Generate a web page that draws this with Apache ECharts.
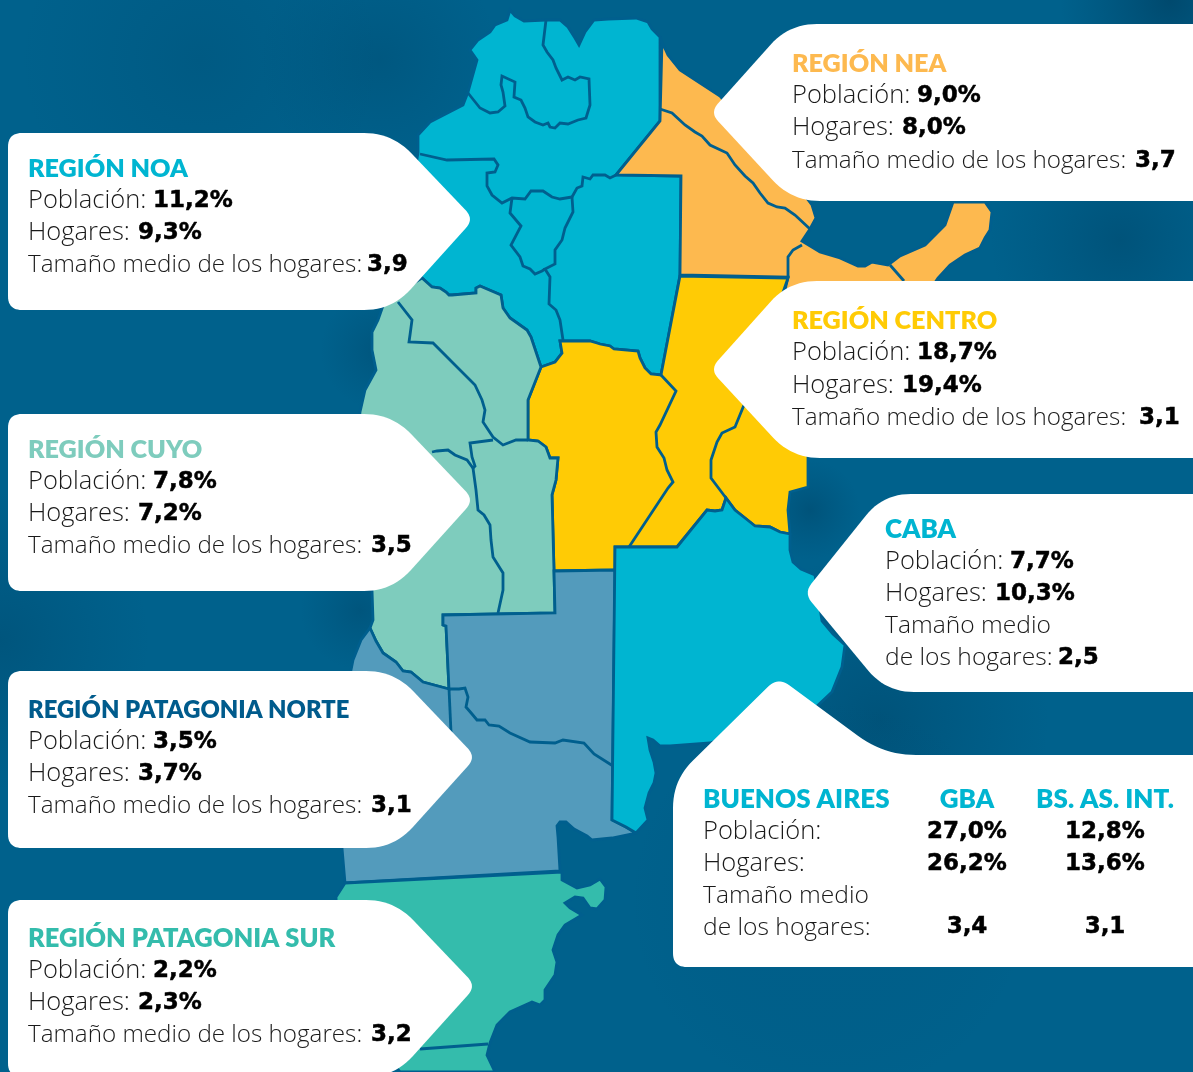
<!DOCTYPE html>
<html>
<head>
<meta charset="utf-8">
<title>Regiones</title>
<script src="https://cdn.jsdelivr.net/npm/echarts@6/dist/echarts.min.js"></script>
<style>
  html, body { margin: 0; padding: 0; background: #00618c; }
  #chart { width: 1193px; height: 1072px; }
</style>
</head>
<body>
<div id="chart"></div>
<script>
// values printed on the callouts
const noaValues = ['11,2%', '9,3%', '3,9']
const neaValues = ['9,0%', '8,0%', '3,7']
const centroValues = ['18,7%', '19,4%', '3,1']
const cuyoValues = ['7,8%', '7,2%', '3,5']
const cabaValues = ['7,7%', '10,3%', '2,5']
const patNorteValues = ['3,5%', '3,7%', '3,1']
const patSurValues = ['2,2%', '2,3%', '3,2']
const gbaValues = ['27,0%', '26,2%', '3,4']
const interiorValues = ['12,8%', '13,6%', '3,1']

// map outlines, x/y in picture units
const noaOutline = [[510,10],[515,16],[524,21],[546,20],[560,20],[568,27],[575,38],[579,45],[585,32],[594,20],[608,19],[636,18],[648,22],[652,29],[660,37],[660,121],[616,175],[681,176],[680,275],[661,375],[651,374],[645,368],[640,358],[638,351],[614,349],[610,346],[600,344],[597,343],[590,341],[560,341],[562,353],[555,362],[541,367],[531,337],[527,330],[510,318],[503,308],[501,295],[480,286],[476,288],[476,293],[452,295],[449,295],[446,292],[440,288],[432,287],[422,278],[405,280],[410,200],[418,153],[418,135],[430,122],[463,105],[468,92],[477,60],[470,50],[478,40],[490,32],[495,25],[507,20]]
const neaOutline = [[662,42],[668,55],[680,70],[720,96],[770,150],[812,205],[816,218],[810,229],[802,241],[820,252],[840,258],[858,266],[865,266],[872,262],[888,265],[900,256],[925,245],[945,225],[953,202],[985,202],[992,212],[990,230],[985,238],[980,248],[965,255],[950,265],[938,278],[930,290],[785,290],[788,277],[680,275],[681,176],[616,175],[660,121]]
const centroOutline = [[680,276],[788,278],[770,330],[808,440],[808,487],[790,492],[788,510],[790,534],[780,532],[770,527],[755,526],[745,518],[735,510],[726,498],[722,510],[715,511],[707,510],[677,547],[615,547],[615,570],[554,571],[552,495],[556,480],[558,458],[550,458],[546,447],[538,441],[528,440],[528,400],[541,367],[555,362],[562,353],[560,341],[590,341],[597,343],[600,344],[610,346],[614,349],[638,351],[640,358],[645,368],[651,374],[661,375]]
const cuyoOutline = [[541,367],[531,337],[527,330],[510,318],[503,308],[501,295],[480,286],[476,288],[476,293],[452,295],[449,295],[446,292],[440,288],[432,287],[422,278],[385,300],[378,320],[372,332],[372,350],[376,370],[365,390],[360,412],[350,500],[372,590],[373,620],[370,628],[376,641],[383,653],[396,662],[403,671],[411,672],[423,682],[449,689],[446,626],[443,625],[443,615],[555,613],[554,571],[552,495],[556,480],[558,458],[550,458],[546,447],[538,441],[528,440],[528,400]]
const patNorteOutline = [[370,628],[376,641],[383,653],[396,662],[403,671],[411,672],[423,682],[449,689],[446,626],[443,625],[443,615],[555,613],[554,571],[615,570],[612,820],[626,827],[636,833],[612,838],[592,840],[587,836],[574,829],[566,822],[560,822],[557,826],[558,837],[560,871],[345,883],[342,848],[340,760],[349,680],[353,660],[361,640]]
const patSurOutline = [[345,883],[562,872],[562,880],[577,888],[590,885],[600,879],[606,887],[605,900],[597,909],[590,908],[583,898],[575,897],[565,903],[570,908],[582,915],[565,925],[558,935],[553,950],[557,962],[555,975],[545,990],[545,1000],[540,1005],[532,1002],[510,1012],[497,1025],[490,1043],[487,1055],[495,1072],[400,1072],[340,1000],[336,897]]
const baOutline = [[615,547],[677,547],[707,510],[715,511],[722,510],[726,498],[735,510],[745,518],[755,526],[770,527],[780,532],[790,534],[790,550],[793,562],[801,569],[815,575],[822,621],[833,634],[845,645],[842,667],[832,692],[815,708],[710,743],[670,746],[660,746],[653,740],[648,738],[650,750],[654,762],[656,773],[654,783],[649,793],[645,808],[648,820],[636,833],[626,827],[612,820]]

// province borders inside the regions
const borderJujuy = [[546,20],[543,45],[547,52],[553,60],[556,68],[562,80],[568,77],[575,80],[580,77],[589,79],[590,105],[586,118],[578,120],[568,124],[560,123],[555,128],[550,127],[548,123],[543,125],[535,122],[528,117],[525,108],[521,100],[514,97],[515,82],[502,76],[501,85],[503,92],[505,106],[498,112],[490,113],[480,108],[468,93]]
const borderSalta = [[420,154],[447,160],[494,159],[498,165],[495,172],[487,173],[487,186],[492,195],[502,203],[512,198],[525,199],[531,191],[543,191],[552,197],[560,199],[572,197]]
const borderChacoTop = [[572,197],[577,188],[582,186],[583,177],[590,179],[593,175],[605,175],[610,178],[616,175]]
const borderSantiago = [[572,197],[573,212],[565,228],[562,240],[555,250],[555,264],[545,269],[550,277],[549,304],[556,310],[560,320],[563,340]]
const borderTucuman = [[512,198],[510,213],[521,226],[511,245],[520,257],[523,266],[530,269],[535,274],[542,271],[545,269]]
const borderFormosa = [[660,109],[672,113],[685,125],[695,132],[702,136],[710,145],[727,153],[735,165],[745,176],[753,183],[760,193],[768,203],[777,207],[785,208],[795,215],[810,229]]
const borderCorrientes = [[788,277],[788,257],[793,250],[802,245]]
const borderMisiones = [[890,265],[904,281]]
const borderCordoba = [[661,375],[676,391],[660,425],[656,432],[657,447],[664,458],[667,470],[673,482],[668,488],[629,547]]
const borderEntreRios = [[744,405],[735,427],[722,433],[717,442],[711,460],[711,478],[720,490],[726,498]]
const borderRioja = [[398,302],[412,320],[410,335],[409,342],[433,343],[455,365],[470,380],[475,385],[482,400],[485,410],[483,422],[493,437],[503,445],[516,440],[528,440]]
const borderSanJuan = [[493,440],[470,443],[472,457],[475,466],[473,468],[467,460],[455,455],[448,450],[437,451],[432,452]]
const borderMendoza = [[473,468],[476,490],[478,510],[484,515],[490,525],[491,540],[493,557],[503,573],[503,590],[498,613]]
const borderNeuquen = [[449,689],[451,732]]
const borderRioNegro = [[449,689],[459,689],[465,688],[468,697],[466,707],[472,714],[477,720],[485,720],[489,725],[499,726],[510,733],[530,742],[555,743],[563,740],[584,743],[594,754],[613,766]]
const borderSantaCruz = [[420,1049],[488,1044]]

const regionOutlines = { NOA: noaOutline, NEA: neaOutline, Centro: centroOutline, Cuyo: cuyoOutline, PatagoniaNorte: patNorteOutline, PatagoniaSur: patSurOutline, BuenosAires: baOutline }
const regionColors = { NOA: '#00b5d1', NEA: '#fdb94f', Centro: '#ffcb05', Cuyo: '#7eccbd', PatagoniaNorte: '#539bbc', PatagoniaSur: '#34bcac', BuenosAires: '#00b5d1' }
const borders = [borderJujuy, borderSalta, borderChacoTop, borderSantiago, borderTucuman, borderFormosa, borderCorrientes, borderMisiones, borderCordoba, borderEntreRios, borderRioja, borderSanJuan, borderMendoza, borderNeuquen, borderRioNegro, borderSantaCruz]

const lineColor = '#005f8e'
const labelFont = '"Open Sans", sans-serif'
const valueFont = '"DejaVu Sans", sans-serif'
const titleFont = 'Lato, sans-serif'

function closeRing(points) {
  return [...points, points[0]]
}

const geoJson = {
  type: 'FeatureCollection',
  features: Object.keys(regionOutlines).map(name => ({
    type: 'Feature',
    properties: { name },
    geometry: { type: 'Polygon', coordinates: [closeRing(regionOutlines[name])] },
  })),
}
echarts.registerMap('regiones', geoJson)

// corners as [x, y, radius], rounded with a sampled quadratic curve
function rounded(corners) {
  const out = []
  const n = corners.length
  corners.forEach((c, i) => {
    const prev = corners[(i + n - 1) % n]
    const next = corners[(i + 1) % n]
    const lenA = Math.hypot(prev[0] - c[0], prev[1] - c[1])
    const lenB = Math.hypot(next[0] - c[0], next[1] - c[1])
    const a = [c[0] + (prev[0] - c[0]) * c[2] / lenA, c[1] + (prev[1] - c[1]) * c[2] / lenA]
    const b = [c[0] + (next[0] - c[0]) * c[2] / lenB, c[1] + (next[1] - c[1]) * c[2] / lenB]
    for (let t = 0; t <= 1.001; t += 1 / 12) {
      const u = 1 - t
      out.push([u * u * a[0] + 2 * u * t * c[0] + t * t * b[0], u * u * a[1] + 2 * u * t * c[1] + t * t * b[1]])
    }
  })
  return out
}

function box(corners) {
  return { type: 'polygon', z: 20, shape: { points: rounded(corners) }, style: { fill: '#fff' } }
}

function leftCallout(top, height, dx) {
  return box([[8, top, 14], [392 + dx, top, 28], [474 + dx, top + 86, 12], [392 + dx, top + height, 28], [8, top + height, 14]])
}

function rightCallout(top, height, dx) {
  return box([[1210, top, 18], [789 + dx, top, 28], [710 + dx, top + height / 2, 12], [792 + dx, top + height, 28], [1210, top + height, 18]])
}

function label(x, y, text, size) {
  return { type: 'text', z: 21, x, y, style: { text, font: '300 ' + size + 'px ' + labelFont, fill: '#1a1a1a', align: 'left', verticalAlign: 'middle' } }
}

function value(x, y, text, align) {
  return { type: 'text', z: 21, x, y, style: { text, font: '800 23px ' + valueFont, fill: '#000', stroke: '#000', lineWidth: 0.5, align: align || 'left', verticalAlign: 'middle' } }
}

function title(x, y, text, color, size, align) {
  return { type: 'text', z: 21, x, y, style: { text, font: '800 ' + size + 'px ' + titleFont, fill: color, align: align || 'left', verticalAlign: 'middle' } }
}

function regionText(x, ys, name, color, size, values, lastOffset) {
  return [
    title(x, ys[0], name, color, size),
    label(x, ys[1], 'Población:', 25.5), value(x + 125, ys[1], values[0]),
    label(x, ys[2], 'Hogares:', 25.5), value(x + 110, ys[2], values[1]),
    label(x, ys[3], 'Tamaño medio de los hogares:', 24.2), value(x + lastOffset, ys[3], values[2]),
  ]
}

// soft patches for the mottled sea
function patch(x, y, r, color) {
  return {
    type: 'circle', z: 1, shape: { cx: x, cy: y, r },
    style: { fill: { type: 'radial', x: 0.5, y: 0.5, r: 0.5, colorStops: [{ offset: 0, color }, { offset: 1, color: 'rgba(0,60,95,0)' }] } },
  }
}

const graphics = [
  patch(1170, 0, 110, 'rgba(0,50,80,0.5)'),
  patch(1120, 240, 130, 'rgba(0,50,80,0.3)'),
  patch(880, 720, 170, 'rgba(0,50,80,0.3)'),
  patch(810, 510, 50, 'rgba(0,50,80,0.3)'),
  patch(380, 350, 60, 'rgba(0,50,80,0.25)'),
  patch(360, 610, 60, 'rgba(0,50,80,0.25)'),
  patch(0, 640, 150, 'rgba(0,50,80,0.25)'),
  patch(200, 60, 180, 'rgba(0,50,80,0.15)'),
  patch(380, 60, 120, 'rgba(0,50,80,0.2)'),
  patch(830, 900, 200, 'rgba(0,90,135,0.2)'),

  leftCallout(133, 177, 0),
  leftCallout(414, 177, 0),
  leftCallout(671, 177, 2),
  leftCallout(900, 177, 2),
  rightCallout(24, 177, 0),
  rightCallout(281, 177, 0),
  rightCallout(494, 198, 94),
  box([[673, 780, 28], [778, 677, 14], [884, 755, 32], [1210, 755, 18], [1210, 967, 18], [673, 967, 14]]),

  ...regionText(28, [169, 201, 233, 265], 'REGIÓN NOA', regionColors.NOA, 25.2, noaValues, 339),
  ...regionText(28, [450, 482, 514, 546], 'REGIÓN CUYO', regionColors.Cuyo, 25.2, cuyoValues, 343),
  ...regionText(28, [710, 742, 774, 806], 'REGIÓN PATAGONIA NORTE', '#005b8c', 23.8, patNorteValues, 343),
  ...regionText(28, [939, 971, 1003, 1035], 'REGIÓN PATAGONIA SUR', regionColors.PatagoniaSur, 25.5, patSurValues, 343),
  ...regionText(792, [64, 96, 128, 161], 'REGIÓN NEA', regionColors.NEA, 25.2, neaValues, 343),
  ...regionText(792, [321, 353, 386, 418], 'REGIÓN CENTRO', regionColors.Centro, 25.2, centroValues, 347),

  title(885, 530, 'CABA', regionColors.BuenosAires, 26),
  label(885, 562, 'Población:', 25.5), value(1010, 562, cabaValues[0]),
  label(885, 594, 'Hogares:', 25.5), value(995, 594, cabaValues[1]),
  label(885, 626, 'Tamaño medio', 24.6),
  label(885, 658, 'de los hogares:', 24.6), value(1058, 658, cabaValues[2]),

  title(703, 800, 'BUENOS AIRES', regionColors.BuenosAires, 26),
  title(967, 800, 'GBA', regionColors.BuenosAires, 26, 'center'),
  title(1105, 800, 'BS. AS. INT.', regionColors.BuenosAires, 26, 'center'),
  label(703, 832, 'Población:', 25.5),
  label(703, 864, 'Hogares:', 25.5),
  label(703, 896, 'Tamaño medio', 24.6),
  label(703, 928, 'de los hogares:', 24.6),
  value(967, 832, gbaValues[0], 'center'),
  value(967, 864, gbaValues[1], 'center'),
  value(967, 927, gbaValues[2], 'center'),
  value(1105, 832, interiorValues[0], 'center'),
  value(1105, 864, interiorValues[1], 'center'),
  value(1105, 927, interiorValues[2], 'center'),
]

const myChart = echarts.init(document.getElementById('chart'))
myChart.setOption({
  animation: false,
  backgroundColor: '#00618c',
  geo: {
    map: 'regiones',
    z: 5,
    silent: true,
    roam: false,
    aspectScale: 1,
    projection: { project: p => p, unproject: p => p },
    boundingCoords: [[0, 0], [1193, 1072]],
    layoutCenter: ['50%', '50%'],
    layoutSize: 1193,
    label: { show: false },
    itemStyle: { borderColor: lineColor, borderWidth: 2.8 },
    regions: Object.keys(regionColors).map(name => ({ name, itemStyle: { areaColor: regionColors[name] } })),
  },
  series: [
    {
      type: 'lines',
      coordinateSystem: 'geo',
      polyline: true,
      silent: true,
      z: 6,
      lineStyle: { color: lineColor, width: 2.8, opacity: 1, curveness: 0 },
      data: borders.map(coords => ({ coords })),
    },
  ],
  graphic: { elements: graphics },
})
</script>
</body>
</html>
